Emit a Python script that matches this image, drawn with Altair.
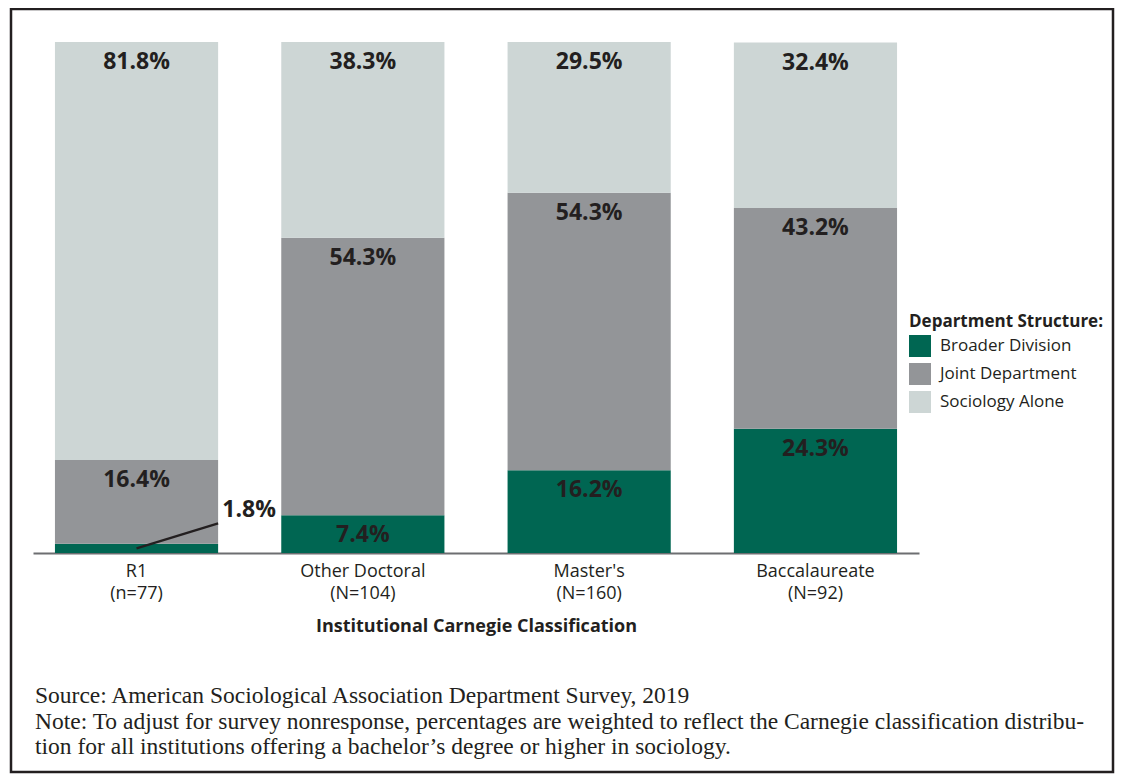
import altair as alt
import pandas as pd

categories = ["R1", "Other Doctoral", "Master's", "Baccalaureate"]
sample_sizes = ["(n=77)", "(N=104)", "(N=160)", "(N=92)"]
structures = ["Broader Division", "Joint Department", "Sociology Alone"]
broader = [1.8, 7.4, 16.2, 24.3]
joint = [16.4, 54.3, 54.3, 43.2]
alone = [81.8, 38.3, 29.5, 32.4]
colors = ["#006652", "#939598", "#cdd6d5"]
source_note = [
    "Source: American Sociological Association Department Survey, 2019",
    "Note: To adjust for survey nonresponse, percentages are weighted to reflect the Carnegie classification distribu-",
    "tion for all institutions offering a bachelor\u2019s degree or higher in sociology.",
]

TEXT = "#231f20"
SANS = "Open Sans"

labels = [f"{c}|{n}" for c, n in zip(categories, sample_sizes)]
rows = []
for i, lab in enumerate(labels):
    for j, (s, vals) in enumerate(zip(structures, [broader, joint, alone])):
        rows.append({"cat": lab, "structure": s, "order": j,
                     "value": vals[i], "label": f"{vals[i]:.1f}%"})
df = pd.DataFrame(rows)

xscale = alt.Scale(paddingInner=0.279, paddingOuter=0.097)
yscale = alt.Scale(domain=[0, 100], nice=False, zero=True)

base = alt.Chart(df).transform_stack(
    stack="value", groupby=["cat"],
    sort=[alt.SortField("order", order="ascending")],
    as_=["y0", "y1"],
)

bars = base.mark_bar().encode(
    x=alt.X("cat:N", sort=labels, scale=xscale,
            axis=alt.Axis(title="Institutional Carnegie Classification",
                          labelExpr="split(datum.value, '|')", labelAngle=0,
                          ticks=False, domainColor="#6d6e71", domainWidth=2,
                          labelFont=SANS, labelFontSize=18, labelColor=TEXT,
                          labelLineHeight=22, labelPadding=9,
                          titleFont=SANS, titleFontSize=18, titleFontWeight="bold",
                          titleColor=TEXT, titlePadding=15)),
    y=alt.Y("y0:Q", scale=yscale, axis=None),
    y2="y1:Q",
    color=alt.Color("structure:N",
                    scale=alt.Scale(domain=structures, range=colors),
                    legend=alt.Legend(title="Department Structure:", orient="none",
                                      legendX=876, legendY=272,
                                      symbolType="square", symbolSize=484,
                                      symbolStrokeWidth=0, symbolOpacity=1,
                                      labelFont=SANS, labelFontSize=17, labelColor=TEXT,
                                      labelOffset=9, rowPadding=6, labelLimit=300,
                                      titleFont=SANS, titleFontSize=17, titleLimit=300,
                                      titleFontWeight="bold", titleColor=TEXT,
                                      titlePadding=4)),
    order=alt.Order("order:Q"),
)

texts = base.transform_filter("datum.value >= 5").mark_text(
    dy=20, baseline="middle", align="center", font=SANS, fontSize=23,
    fontWeight="bold", color=TEXT,
).encode(
    x=alt.X("cat:N", sort=labels),
    y=alt.Y("y1:Q"),
    text="label:N",
)

lead_df = pd.DataFrame({
    "cat": [labels[0]],
    "y": [broader[0] / 2],
    "y2": [broader[0] / 2 + 4.9],
    "label": [f"{broader[0]:.1f}%"],
})
lead_line = alt.Chart(lead_df).mark_rule(color=TEXT, strokeWidth=2.2).encode(
    x=alt.X("cat:N", sort=labels, bandPosition=0.5),
    x2=alt.X2("cat:N", bandPosition=1),
    y=alt.Y("y:Q"),
    y2="y2:Q",
)
lead_text = alt.Chart(lead_df).mark_text(
    baseline="middle", align="center", font=SANS, fontSize=23,
    fontWeight="bold", color=TEXT, dy=-13, dx=31,
).encode(
    x=alt.X("cat:N", sort=labels, bandPosition=1),
    y=alt.Y("y2:Q"),
    text="label:N",
)

note_df = pd.DataFrame({"t": ["\n".join(source_note)]})
note = alt.Chart(note_df).mark_text(
    align="left", baseline="alphabetic", font="Liberation Serif", fontSize=23.5,
    lineHeight=25.5, color=TEXT, lineBreak="\n",
).encode(x=alt.value(2), y=alt.value(661), text="t:N")

frame = alt.Chart(pd.DataFrame({"a": [0]})).mark_rect(
    fillOpacity=0, stroke=TEXT, strokeWidth=2.5,
).encode(x=alt.value(-22), x2=alt.value(1080), y=alt.value(-33), y2=alt.value(730))

chart = alt.layer(frame, bars, texts, lead_line, lead_text, note).properties(
    width=886, height=511,
    autosize=alt.AutoSizeParams(type="none"),
    padding={"left": 25, "top": 34, "right": 196, "bottom": 222},
).configure_view(stroke=None).configure_axis(grid=False)

chart.save("out.html", embed_options={"renderer": "svg", "actions": False})
